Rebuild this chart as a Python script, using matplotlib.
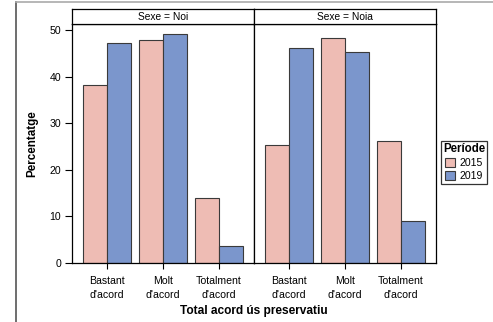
import matplotlib.pyplot as plt
import numpy as np
from matplotlib import font_manager as fm
from matplotlib.patches import Patch
from matplotlib.lines import Line2D

# keep the regular-width Liberation Sans, drop the Narrow one
fm.fontManager.ttflist = [f for f in fm.fontManager.ttflist if "Narrow" not in f.fname]
plt.rcParams['font.family'] = ['Liberation Sans', 'DejaVu Sans']

categories = ["Bastant\nd'acord", "Molt\nd'acord", "Totalment\nd'acord"]
panels = ["Sexe = Noi", "Sexe = Noia"]
years = ["2015", "2019"]
noi_2015 = [38.3, 47.9, 13.9]
noi_2019 = [47.3, 49.2, 3.6]
noia_2015 = [25.4, 48.4, 26.2]
noia_2019 = [46.1, 45.2, 9.0]

colors = ["#EEBCB4", "#7B96CC"]
edge = "#3a3a3a"

fig = plt.figure(figsize=(4.93, 3.22), dpi=100)
W, H = 493, 322

def fx(px):
    return px / W

def fy(py):
    return 1 - py / H

# outer border (left and top only visible)
fig.add_artist(Line2D([fx(16), fx(16)], [0, fy(2)], color="#555555", lw=1.2))
fig.add_artist(Line2D([fx(16), 1], [fy(2), fy(2)], color="#aaaaaa", lw=1.2))

x = np.arange(len(categories))
bw = 0.43
data = [(noi_2015, noi_2019), (noia_2015, noia_2019)]
lefts = [72, 254]
pw = 182

for i, (title, (v15, v19)) in enumerate(zip(panels, data)):
    ax = fig.add_axes([fx(lefts[i]), fy(263), fx(pw), (263 - 24) / H])
    ax.bar(x - bw / 2, v15, bw, color=colors[0], edgecolor=edge, lw=0.8)
    ax.bar(x + bw / 2, v19, bw, color=colors[1], edgecolor=edge, lw=0.8)
    ax.set_xlim(-0.63, 2.63)
    ax.set_ylim(0, 51.3)
    ax.set_xticks(x)
    ax.set_xticklabels(categories, fontsize=7.6, linespacing=1.55)
    ax.tick_params(axis="x", length=4, width=0.8, pad=5)
    for s in ax.spines.values():
        s.set_color("black")
        s.set_linewidth(0.9)
    if i == 0:
        ax.set_yticks([0, 10, 20, 30, 40, 50])
        ax.tick_params(axis="y", length=5, width=0.8, labelsize=7.6, pad=3)
        ax.set_ylabel("Percentatge", fontsize=8.4, fontweight="bold", labelpad=8)
    else:
        ax.set_yticks([])
    # strip
    sx = fig.add_axes([fx(lefts[i]), fy(24), fx(pw), 15 / H])
    sx.set_xticks([])
    sx.set_yticks([])
    for s in sx.spines.values():
        s.set_color("black")
        s.set_linewidth(0.9)
    sx.text(0.5, 0.5, title, ha="center", va="center", fontsize=7.4, transform=sx.transAxes)

fig.text(fx(254), fy(311), "Total acord ús preservatiu", ha="center", va="center",
         fontsize=8.6, fontweight="bold")

handles = [Patch(facecolor=colors[k], edgecolor=edge, lw=0.8, label=years[k]) for k in range(2)]
leg = fig.legend(handles=handles, title="Període", loc="upper left",
                 bbox_to_anchor=(fx(441), fy(141)), fontsize=7.6, title_fontsize=8.3,
                 frameon=True, fancybox=False, handlelength=0.9, handleheight=0.9,
                 handletextpad=0.5, borderpad=0.2, labelspacing=0.3, borderaxespad=0)
leg.get_title().set_fontweight("bold")
leg.get_frame().set_edgecolor("black")
leg.get_frame().set_linewidth(0.9)

fig.savefig("out.png", dpi=100)
